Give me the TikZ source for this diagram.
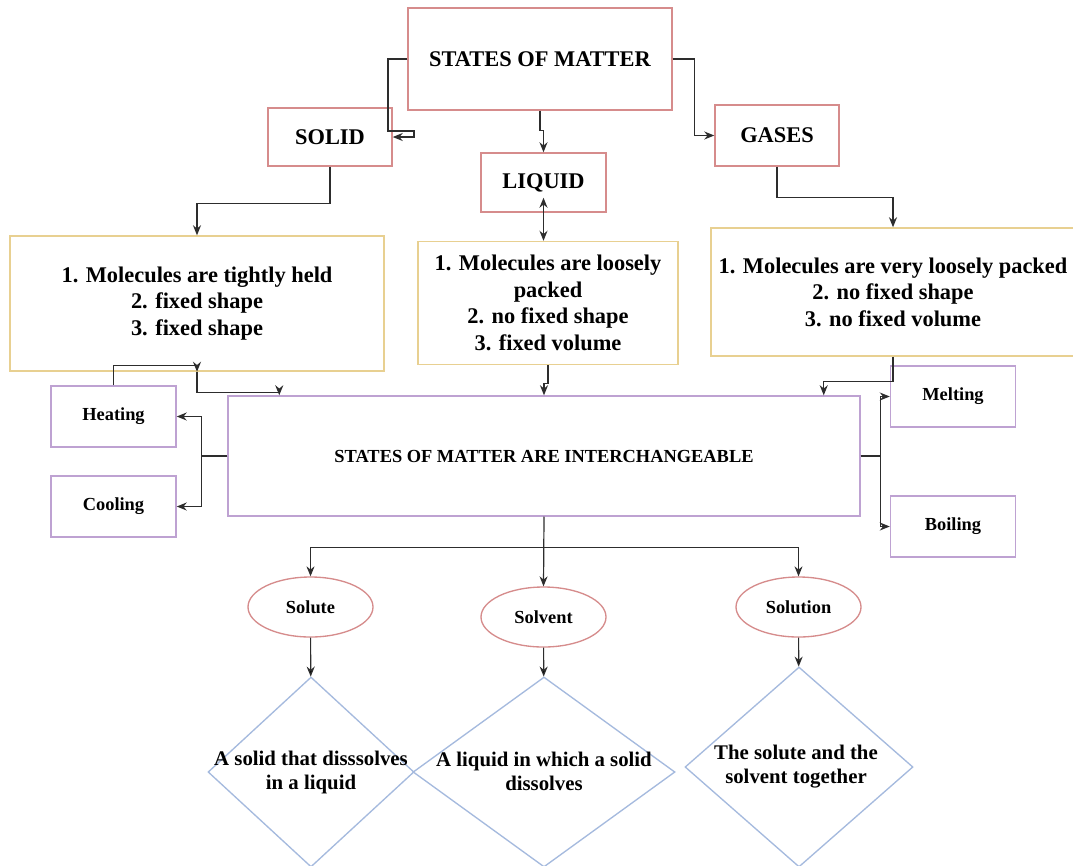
\documentclass[tikz,border=0pt]{standalone}
\usepackage{fontspec}
\setmainfont{Liberation Serif}
\usetikzlibrary{shapes.geometric,arrows.meta,calc}

\definecolor{boxred}{RGB}{214,140,140}
\definecolor{boxyel}{RGB}{232,208,145}
\definecolor{boxpur}{RGB}{190,162,210}
\definecolor{boxblu}{RGB}{165,186,222}
\definecolor{linegry}{RGB}{45,45,45}

\newcommand\bigtxt{\fontsize{16.8}{19.9}\selectfont\bfseries}
\newcommand\smalltxt{\fontsize{13.8}{16.5}\selectfont\bfseries}
\newcommand\diatxt{\fontsize{15.6}{18}\selectfont\bfseries}

\tikzset{
  sz/.style 2 args={minimum width=#1*0.75pt, minimum height=#2*0.75pt},
  redbox/.style={draw=boxred, line width=1.1pt, inner sep=0pt, align=center, font=\bigtxt},
  yelbox/.style={draw=boxyel, line width=1.1pt, inner sep=0pt, align=center, font=\bigtxt},
  purbox/.style={draw=boxpur, line width=1.1pt, inner sep=0pt, align=center, font=\smalltxt},
  redoval/.style={ellipse, draw=boxred, line width=1pt, inner sep=0pt, font=\smalltxt},
  bluedia/.style={diamond, draw=boxblu, line width=1pt, inner sep=0pt},
  diatext/.style={align=center, inner sep=0pt, font=\diatxt},
  conn/.style={draw=linegry, line width=0.9pt, -{Stealth[length=7.5pt,width=6pt]}},
  conn2/.style={draw=linegry, line width=0.9pt, {Stealth[length=7.5pt,width=6pt]}-{Stealth[length=7.5pt,width=6pt]}}
}

\begin{document}
\begin{tikzpicture}[x=0.75pt,y=-0.75pt]
  \fill[white] (0,0) rectangle (1073,865);
  \useasboundingbox (0,0) rectangle (1073,865);

  % top level
  \node[redbox, sz={264}{102}] (som) at (540,59) {STATES OF MATTER};
  \node[redbox, sz={124}{58}] (solid) at (330,137) {SOLID};
  \node[redbox, sz={125}{59}] (liquid) at (543.5,182.5) {LIQUID};
  \node[redbox, sz={124}{61}] (gases) at (777,135.5) {GASES};

  % properties
  \node[yelbox, sz={374}{135}] (solidbox) at (197,303.5) {1. Molecules are tightly held\\2. fixed shape\\3. fixed shape};
  \node[yelbox, sz={260}{123}] (liquidbox) at (548,303) {1. Molecules are loosely\\packed\\2. no fixed shape\\3. fixed volume};
  \node[yelbox, sz={364}{128}] (gasesbox) at (893,292) {1. Molecules are very loosely packed\\2. no fixed shape\\3. no fixed volume};

  % changes of state
  \node[purbox, sz={125}{61}] (heating) at (113.5,416.5) {Heating};
  \node[purbox, sz={125}{61}] (cooling) at (113.5,506.5) {Cooling};
  \node[purbox, sz={632}{120}] (inter) at (544,456) {STATES OF MATTER ARE INTERCHANGEABLE};
  \node[purbox, sz={125}{61}] (melting) at (953,396.5) {Melting};
  \node[purbox, sz={125}{61}] (boiling) at (953,526.5) {Boiling};

  % solutions
  \node[redoval, sz={125}{60}] (solute) at (310.5,607) {Solute};
  \node[redoval, sz={125}{60}] (solvent) at (543.5,617) {Solvent};
  \node[redoval, sz={125}{60}] (solution) at (798.5,607) {Solution};
  \node[bluedia, sz={206}{190}] (d1) at (311,772) {};
  \node[bluedia, sz={262}{190}] (d2) at (544,772) {};
  \node[bluedia, sz={228}{200}] (d3) at (799,767) {};
  \node[diatext] (d1t) at (311,772) {A solid that disssolves\\in a liquid};
  \node[diatext] (d2t) at (544,771.5) {A liquid in which a solid\\dissolves};
  \node[diatext] (d3t) at (796,767) {The solute and the\\solvent together};

  % connectors
  \draw[conn] (som.west) -| (388,131) -| (414,137) -- (solid.east);
  \draw[conn] (som.south) -- ++(0,20) -| (liquid.north);
  \draw[conn] (som.east) -- ++(22,0) |- (gases.west);
  \draw[conn] (solid.south) -- ++(0,37) -| (solidbox.north);
  \draw[conn] (gases.south) -- ++(0,31) -| (gasesbox.north);
  \draw[conn2] ($(liquid.south)+(0,-15)$) -- (liquid.south |- liquidbox.north);
  \draw[conn] (liquidbox.south) -- ++(0,18) -| (inter.north);
  \draw[conn] (heating.north) |- ($(solidbox.south)+(0,-6)$) -- (solidbox.south);
  \draw[conn] (solidbox.south) -- ++(0,21) -| ($(inter.north west)+(52,0)$);
  \draw[conn] (gasesbox.south) -- ++(0,25) -| ($(inter.north east)+(-37,0)$);
  \draw[conn] (inter.west) -- ++(-26,0) |- (heating.east);
  \draw[conn] (inter.west) -- ++(-26,0) |- (cooling.east);
  \draw[conn] (inter.east) -- ++(20,0) |- (melting.west);
  \draw[conn] (inter.east) -- ++(20,0) |- (boiling.west);
  \draw[conn] (inter.south) -- (solvent.north);
  \draw[conn] ($(inter.south)+(0,31)$) -| (solute.north);
  \draw[conn] ($(inter.south)+(0,31)$) -| (solution.north);
  \path[conn]
  (solute) edge (d1)
  (solvent) edge (d2)
  (solution) edge (d3)
  ;
\end{tikzpicture}
\end{document}
